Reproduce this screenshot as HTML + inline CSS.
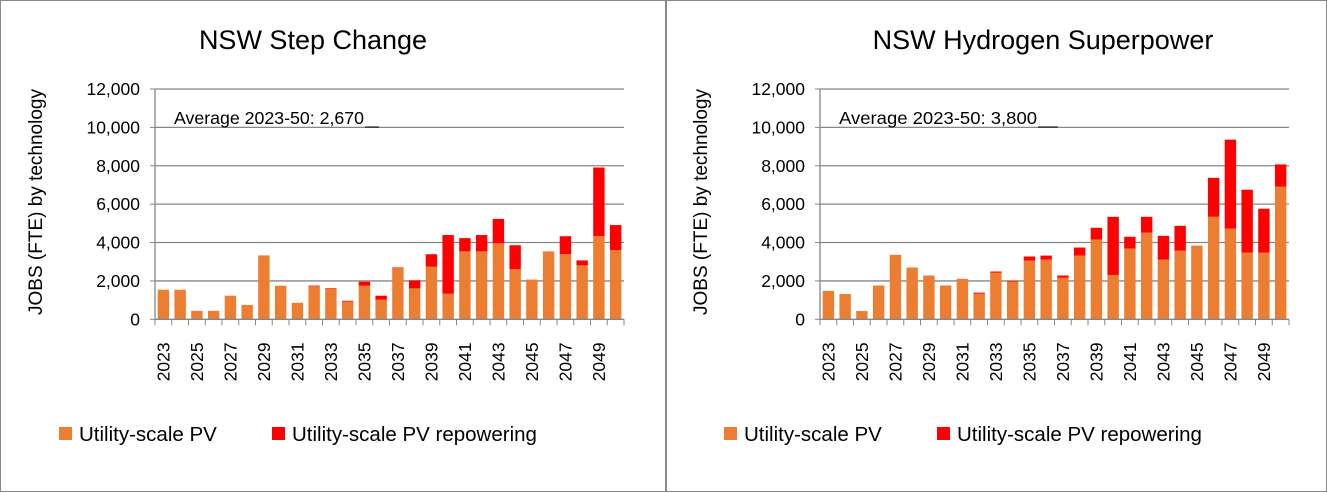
<!DOCTYPE html>
<html><head><meta charset="utf-8"><style>
body{margin:0;background:#fff;font-family:"Liberation Sans",Carlito,sans-serif}
svg{display:block}
text{font-family:"Liberation Sans",sans-serif;fill:#000}
</style></head><body>
<svg id="c" width="1327" height="493" viewBox="0 0 1327 493" xmlns="http://www.w3.org/2000/svg">
<rect x="0.5" y="0.5" width="665" height="491" fill="#fff" stroke="#888"/>
<rect x="666.5" y="0.5" width="660" height="491" fill="#fff" stroke="#888"/>
</svg>
<script>
const years=[];for(let y=2023;y<=2050;y++)years.push(y);
const yTicks=[0,2000,4000,6000,8000,10000,12000];
const scPV=[1540,1540,440,440,1230,750,3330,1750,860,1720,1580,930,1750,1020,2670,1610,2750,1330,3540,3540,3960,2610,2070,3540,3390,2810,4330,3600];
const scRep=[0,0,0,0,0,0,0,0,0,35,35,35,210,210,30,420,640,3060,690,850,1270,1250,0,0,940,260,3580,1310];
const hsPV=[1480,1320,430,1760,3360,2700,2280,1760,2110,1340,2430,1970,3060,3110,2170,3320,4160,2310,3690,4520,3110,3580,3840,5340,4730,3480,3480,6920];
const hsRep=[0,0,0,0,0,0,0,0,0,50,60,30,210,210,110,420,610,3030,610,820,1240,1290,0,2030,4630,3270,2280,1150];
const NS="http://www.w3.org/2000/svg";
const svg=document.getElementById('c');
function mk(t,a,p){const e=document.createElementNS(NS,t);for(const k in a)e.setAttribute(k,a[k]);(p||svg).appendChild(e);return e;}
function chart(o){
  const x0=o.x0,cw=16.75,y0=319.3,yTop=89,max=12000;
  const ys=v=>y0-(v/max)*(y0-yTop);
  const xs=i=>x0+i*cw;
  const g=mk('g',{});
  
  
  const t=mk('text',{x:o.tx,y:49,'font-size':27,'text-anchor':'middle'},g);t.textContent=o.title;
  
  yTicks.forEach(v=>{
    if(v>0){const l=mk('line',{x1:x0,x2:x0+28*cw,y1:ys(v),y2:ys(v),stroke:'#868686','stroke-width':1.3},g);
    }
    mk('line',{x1:x0-5,x2:x0,y1:ys(v),y2:ys(v),stroke:'#868686'},g);
    const tl=mk('text',{x:x0-15,y:ys(v)+6,'font-size':17.5,'text-anchor':'end'},g);tl.textContent=v.toLocaleString('en-US');
    
  });
  const at=mk('text',{transform:`translate(${x0-113},202) rotate(-90)`,'font-size':19,'text-anchor':'middle'},g);at.textContent='JOBS (FTE) by technology';
  
  const av=mk('text',{x:x0+19,y:124,'font-size':17.5,textLength:o.avgLen,lengthAdjust:'spacingAndGlyphs'},g);av.textContent=o.avg;
  
  mk('line',{x1:x0+19+o.avgLen+1,x2:x0+o.lineEnd,y1:127,y2:127,stroke:'#000','stroke-width':1},g);
  years.forEach((yr,i)=>{
    const bx=xs(i)+2.7,bw=11.4;
    const p=o.pv[i],r=o.rep[i];
    const b1=mk('rect',{x:bx,y:ys(p),width:bw,height:y0-ys(p),fill:'#ED7D31'},g);
    
    if(r>0){const b2=mk('rect',{x:bx,y:ys(p+r),width:bw,height:ys(p)-ys(p+r),fill:'#FF0000'},g);
    }
    mk('line',{x1:xs(i),x2:xs(i),y1:y0,y2:y0+6,stroke:'#868686'},g);
    if(i%2==0){const xl=mk('text',{transform:`translate(${xs(i)+cw/2+6},${y0+62}) rotate(-90)`,'font-size':17.5},g);xl.textContent=yr;
    }
  });
  mk('line',{x1:xs(28),x2:xs(28),y1:y0,y2:y0+6,stroke:'#868686'},g);
  mk('line',{x1:x0,x2:x0+28*cw,y1:y0,y2:y0,stroke:'#868686','stroke-width':1.3},g);
  mk('line',{x1:x0,x2:x0,y1:yTop,y2:y0,stroke:'#868686','stroke-width':1.3},g);
  const lx=o.lx;
  const l1=mk('rect',{x:lx,y:427,width:13,height:13,fill:'#ED7D31'},g);
  
  const lt1=mk('text',{x:lx+20,y:441,'font-size':20.5},g);lt1.textContent='Utility-scale PV';
  
  const l2=mk('rect',{x:lx+213,y:427,width:13,height:13,fill:'#FF0000'},g);
  
  const lt2=mk('text',{x:lx+233,y:441,'font-size':20.5},g);lt2.textContent='Utility-scale PV repowering';
  
}
chart({name:'nsw-step-change-chart',x0:155,tx:313,title:'NSW Step Change',avg:'Average 2023-50: 2,670',avgLen:190,lineEnd:224,pv:scPV,rep:scRep,lx:59});
chart({name:'nsw-hydrogen-superpower-chart',x0:820,tx:1043,title:'NSW Hydrogen Superpower',avg:'Average 2023-50: 3,800',avgLen:198,lineEnd:238,pv:hsPV,rep:hsRep,lx:724});
</script>
</body></html>
